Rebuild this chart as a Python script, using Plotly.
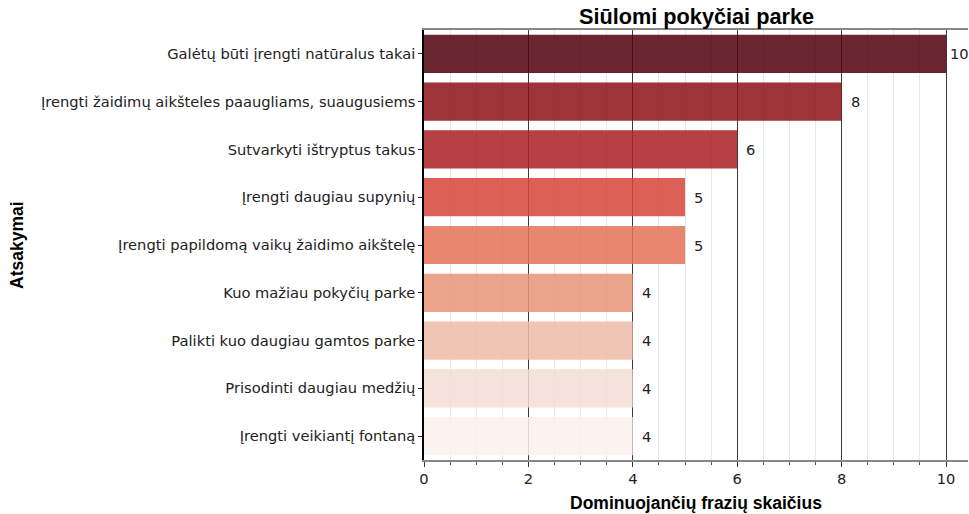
import plotly.graph_objects as go

categories = [
    "Galėtų būti įrengti natūralus takai",
    "Įrengti žaidimų aikšteles paaugliams, suaugusiems",
    "Sutvarkyti ištryptus takus",
    "Įrengti daugiau supynių",
    "Įrengti papildomą vaikų žaidimo aikštelę",
    "Kuo mažiau pokyčių parke",
    "Palikti kuo daugiau gamtos parke",
    "Prisodinti daugiau medžių",
    "Įrengti veikiantį fontaną",
]
values = [10, 8, 6, 5, 5, 4, 4, 4, 4]
bar_colors = [
    "rgb(81,0,12)", "rgb(139,17,24)", "rgb(171,31,36)", "rgb(215,69,56)",
    "rgb(228,114,86)", "rgb(233,149,119)", "rgb(239,188,166)",
    "rgb(244,221,212)", "rgb(252,242,239)",
]
title = "Siūlomi pokyčiai parke"
x_title = "Dominuojančių frazių skaičius"
y_title = "Atsakymai"

tick_font = dict(family="DejaVu Sans", size=14.67, color="#222")
bold_font = "Liberation Sans, Arial, sans-serif"
x_max = 10.42

fig = go.Figure(go.Bar(
    x=values, y=categories, orientation="h",
    marker=dict(color=bar_colors, line=dict(width=0)),
    opacity=0.85,
))

# labels near the right edge get a smaller gap so they stay inside the picture
value_labels = [
    dict(text=str(v), x=v, y=c, xref="x", yref="y", xanchor="left",
         yanchor="middle", xshift=(3 if v > x_max - 1 else 8), borderpad=0,
         showarrow=False, font=tick_font)
    for c, v in zip(categories, values)
]

fig.update_layout(
    width=969, height=514,
    margin=dict(l=424, r=1, t=30, b=54),
    plot_bgcolor="white", paper_bgcolor="white",
    bargap=0.2, showlegend=False,
    annotations=value_labels + [
        dict(text="<b>" + title + "</b>", x=0.5, y=1, xref="paper", yref="paper",
             xanchor="center", yanchor="bottom", yshift=-1, showarrow=False,
             font=dict(family=bold_font, size=21.7, color="black")),
        dict(text="<b>" + x_title + "</b>", x=0.5, y=0, xref="paper", yref="paper",
             xanchor="center", yanchor="middle", yshift=-43, showarrow=False,
             font=dict(family=bold_font, size=17.5, color="black")),
        dict(text="<b>" + y_title + "</b>", x=0, y=0.5, xref="paper", yref="paper",
             xanchor="center", yanchor="middle", xshift=-407, textangle=-90,
             showarrow=False, font=dict(family=bold_font, size=17.5, color="black")),
    ],
)

fig.update_xaxes(
    range=[0, x_max], dtick=2, tick0=0,
    showgrid=True, gridcolor="#3a3a3a", gridwidth=1,
    ticks="outside", ticklen=5, tickcolor="#333", tickfont=tick_font,
    showline=True, linecolor="#888", linewidth=1.5, mirror=True,
    zeroline=False,
    minor=dict(dtick=0.5, showgrid=True, gridcolor="#e6e6e6", gridwidth=1,
               ticks="outside", ticklen=3, tickcolor="#555"),
    layer="below traces",
)
fig.update_yaxes(
    autorange="reversed", showgrid=False,
    ticks="outside", ticklen=4, tickcolor="#333", tickfont=tick_font,
    showline=True, linecolor="black", linewidth=1.5,
    zeroline=False,
)

fig.write_html("out.html", config={"displayModeBar": False},
               post_script="document.body.style.margin='0';document.body.style.overflow='hidden';")
